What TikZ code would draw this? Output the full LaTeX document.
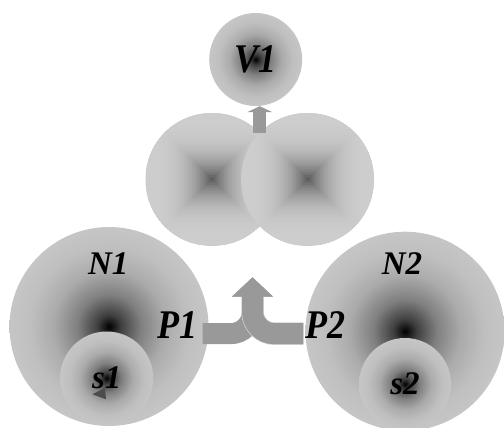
\documentclass[tikz,border=0pt]{standalone}
\usepackage{fontspec}
\usepackage{graphicx}
\setmainfont{Liberation Serif}
\usetikzlibrary{arrows.meta}

\pgfdeclareradialshading{glow}{\pgfpoint{0bp}{0bp}}{color(0bp)=(black); color(3bp)=(black!75); color(8bp)=(black!50); color(14bp)=(black!33); color(20bp)=(black!25); color(28bp)=(black!21); color(50bp)=(black!20)}

\newcommand\tallish[1]{\scalebox{1}[1.13]{#1}}

\tikzset{
  ball/.style={circle, shading=glow, inner sep=0pt},
  plate/.style={circle, fill=black!20, inner sep=0pt, minimum size=133pt},
  lab/.style={font=\fontsize{33}{33}\selectfont\bfseries\itshape},
  biglab/.style={font=\fontsize{36}{36}\selectfont\bfseries\itshape},
  flow/.style={draw=black!40, line width=21pt},
  rim/.style={draw=black!18, line width=22.5pt},
}

\begin{document}
\begin{tikzpicture}[x=1pt,y=1pt]
\useasboundingbox (0,0) rectangle (504,428);

% upper part
\node[ball, minimum size=93pt, biglab] (V1) at (255.7,368.5) {\tallish{V1}};

\node[plate] (H1) at (212,248.5) {};
\begin{scope}
\clip (H1.center) circle[radius=66.5];
\foreach \k in {66,64,...,2}{
  \pgfmathsetmacro\p{100*(1-(205-120*(1-\k/66)^3)/255)}
  \fill[black!\p, shift={(H1.center)}] (-\k,-\k) rectangle (\k,\k);
}
\end{scope}

\node[plate] (H2) at (307.5,248.5) {};
\begin{scope}
\clip (H2.center) circle[radius=66.5];
\foreach \k in {66,64,...,2}{
  \pgfmathsetmacro\p{100*(1-(205-120*(1-\k/66)^3)/255)}
  \fill[black!\p, shift={(H2.center)}] (-\k,-\k) rectangle (\k,\k);
}
\end{scope}

\coordinate (join) at (259.75,294.8);
\draw[draw=black!40, line width=13pt, -{Triangle[width=25pt,length=6pt]}] (join) -- (join |- V1.south);

% lower part
\node[ball, minimum size=199pt] (N1) at (109,101.5) {};
\node[ball, minimum size=93pt, lab] (s1) at (106.7,50) {s1};
\fill[black!70, shift={(s1.center)}] (-14.4,-16.3) -- (-1.7,-10) -- (-0.7,-21.3) -- cycle;

\node[ball, minimum size=199pt] (N2) at (405,96.8) {};
\node[ball, minimum size=92pt, lab] (s2) at (405,44) {s2};

\node[lab, anchor=base] (tN1) at (108.3,153) {N1};
\node[lab, anchor=base] (tN2) at (402,153) {N2};
\node[biglab, anchor=base] (P1) at (177,89.7) {\tallish{P1}};
\node[biglab, anchor=base] (P2) at (325,89.7) {\tallish{P2}};

% merge arrow
\coordinate (m1) at (202.7,94.3);
\coordinate (m2) at (303.3,94.3);
\coordinate (mtop) at (252.5,150.7);
\draw[flow, -{Triangle[width=40pt,length=19.4pt]}] (m1) -- (230.5,94.3) arc[start angle=-90,end angle=0,radius=22] -- (mtop);
\draw[rim] (m2) -- (274.5,94.3) arc[start angle=270,end angle=180,radius=22] -- (252.5,131.3);
\draw[flow, -{Triangle[width=40pt,length=19.4pt]}] (m2) -- (274.5,94.3) arc[start angle=270,end angle=180,radius=22] -- (mtop);
\end{tikzpicture}
\end{document}
